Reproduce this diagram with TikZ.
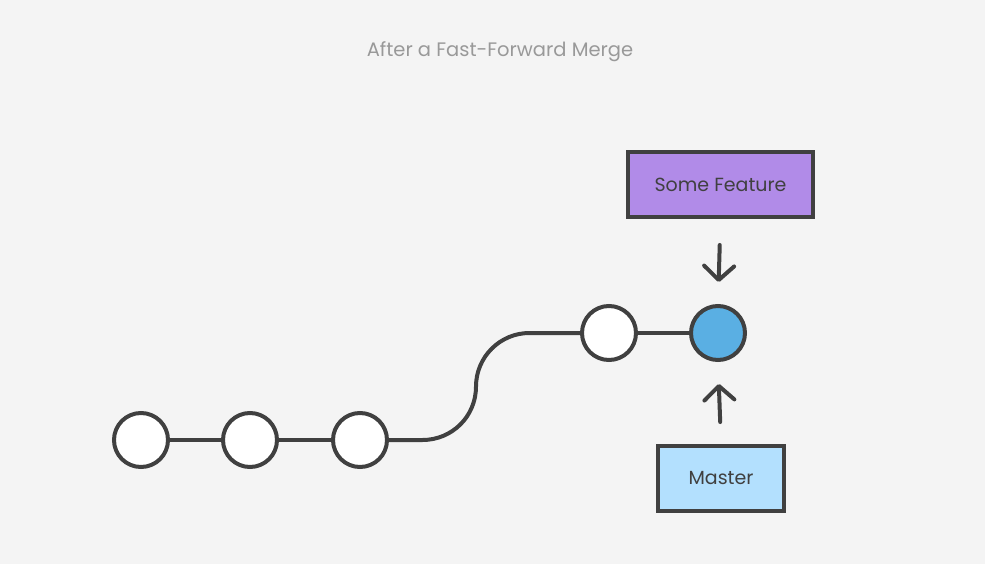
\documentclass[tikz,border=0pt]{standalone}
\usepackage{fontspec}
\setmainfont{Poppins}
\usetikzlibrary{arrows.meta}
\definecolor{bgcol}{HTML}{F4F4F4}
\definecolor{inkcol}{HTML}{404040}
\definecolor{titlecol}{HTML}{999999}
\definecolor{featcol}{HTML}{B18BE8}
\definecolor{mastcol}{HTML}{B3E0FE}
\definecolor{tipcol}{HTML}{5AAFE3}
\begin{document}
\begin{tikzpicture}[x=1pt,y=-1pt,
    commit/.style={circle, draw=inkcol, line width=4pt, fill=white, minimum size=54pt, inner sep=0pt},
    branch/.style={draw=inkcol, line width=4pt, fill=#1, minimum width=185pt, minimum height=65pt,
        font=\fontsize{19}{22}\selectfont, text=inkcol},
    link/.style={draw=inkcol, line width=4pt},
    pointer/.style={draw=inkcol, line width=4pt, line cap=round,
        -{Straight Barb[length=14pt,width=30pt,line join=round,line cap=round]}}]
    % background and bounding box
    \fill[bgcol] (0,0) rectangle (985,564);
    % 1) Title
    \node[text=titlecol, font=\fontsize{19.5}{22}\selectfont] (title) at (500,52) {After a Fast-Forward Merge};
    % 2) Commits on the main line
    \node[commit] (c1) at (141,440) {};
    \node[commit] (c2) at (250,440) {};
    \node[commit] (c3) at (360,440) {};
    % 3) Commits of the merged feature
    \node[commit] (c4) at (609,333) {};
    \node[commit, fill=tipcol] (c5) at (718,333) {};
    \coordinate (bendlow) at (422.5,440);
    \coordinate (bendmid) at (476,386.5);
    \coordinate (bendhigh) at (529.5,333);
    \draw[link] (c1) -- (c2);
    \draw[link] (c2) -- (c3);
    % S-bend made of two quarter circles (radius 53.5)
    \draw[link] (c3.east) -- (bendlow)
        .. controls (452,440) and (476,416.5) .. (bendmid)
        .. controls (476,357) and (500,333) .. (bendhigh) -- (c4.west);
    \draw[link] (c4) -- (c5);
    % 4) Branch labels pointing at the tip
    \node[branch=featcol] (feature) at (720.5,184.5) {Some Feature};
    \node[branch=mastcol, minimum width=126pt] (master) at (721,478.5) {Master};
    \draw[pointer, shorten <=26pt, shorten >=22pt] (feature.south) -- (c5.north);
    \draw[pointer, shorten <=22pt, shorten >=22pt] (master.north) -- (c5.south);
\end{tikzpicture}
\end{document}
